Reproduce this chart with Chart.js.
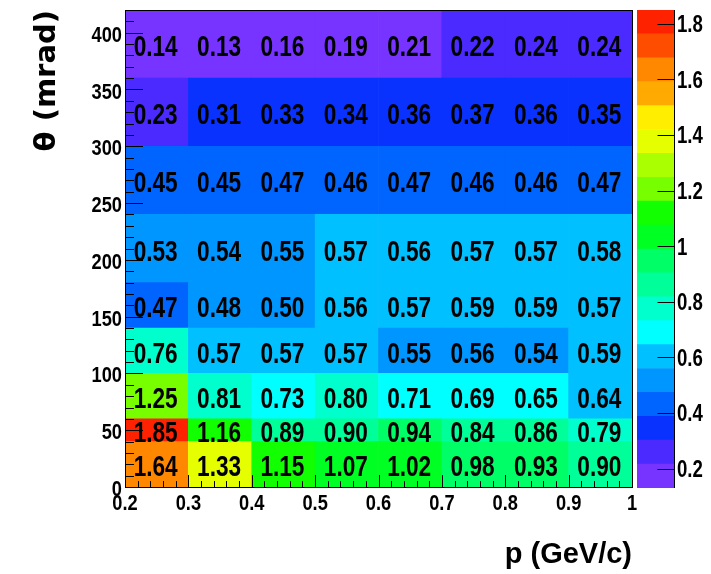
<!DOCTYPE html>
<html>
<head>
<meta charset="utf-8">
<script src="https://cdn.jsdelivr.net/npm/chart.js@4"></script>
<style>
  body { margin: 0; background: #fff; }
  #wrap { position: relative; width: 711px; height: 574px; }
  #heat { position: absolute; left: 0; top: 0; }
  #zbar { position: absolute; left: 632px; top: 0; }
</style>
</head>
<body>
<div id="wrap">
  <canvas id="heat" width="711" height="574"></canvas>
  <canvas id="zbar" width="79" height="574"></canvas>
</div>
<script>
// bin edges
var pEdges = [0.2, 0.3, 0.4, 0.5, 0.6, 0.7, 0.8, 0.9, 1.0];
var thetaEdges = [0, 40, 60, 100, 140, 180, 240, 300, 360, 420];

// cell values, one row per theta bin (bottom to top)
var row0_40    = [1.64, 1.334, 1.15, 1.07, 1.02, 0.98, 0.93, 0.90];
var row40_60   = [1.85, 1.16, 0.89, 0.90, 0.94, 0.84, 0.86, 0.79];
var row60_100  = [1.246, 0.81, 0.73, 0.80, 0.71, 0.69, 0.65, 0.64];
var row100_140 = [0.76, 0.57, 0.57, 0.57, 0.55, 0.556, 0.54, 0.59];
var row140_180 = [0.47, 0.48, 0.50, 0.56, 0.57, 0.59, 0.59, 0.57];
var row180_240 = [0.53, 0.54, 0.55, 0.57, 0.56, 0.57, 0.57, 0.58];
var row240_300 = [0.45, 0.45, 0.47, 0.46, 0.47, 0.46, 0.46, 0.47];
var row300_360 = [0.23, 0.31, 0.33, 0.34, 0.36, 0.37, 0.36, 0.35];
var row360_420 = [0.14, 0.13, 0.16, 0.19, 0.21, 0.22, 0.24, 0.24];
var rows = [row0_40, row40_60, row60_100, row100_140, row140_180,
            row180_240, row240_300, row300_360, row360_420];

// ticks
var xTicks = [0.2, 0.3, 0.4, 0.5, 0.6, 0.7, 0.8, 0.9, 1.0];
var xTickLabels = ['0.2', '0.3', '0.4', '0.5', '0.6', '0.7', '0.8', '0.9', '1'];
var yTicks = [0, 50, 100, 150, 200, 250, 300, 350, 400];
var yTickLabels = ['0', '50', '100', '150', '200', '250', '300', '350', '400'];
var zTicks = [0.2, 0.4, 0.6, 0.8, 1.0, 1.2, 1.4, 1.6, 1.8];
var zTickLabels = ['0.2', '0.4', '0.6', '0.8', '1', '1.2', '1.4', '1.6', '1.8'];

// colour scale: 20 contour levels between zMin and zMax
var zMin = 0.13, zMax = 1.85, nLevels = 20;
var levelColors = ['#7733ff', '#4a2aff', '#0a32ff', '#0064ff', '#0096ff',
                   '#00c0ff', '#00ffff', '#00ffcc', '#00ff99', '#00ff66',
                   '#00ff22', '#11ff00', '#77ff00', '#aaff00', '#e6ff00',
                   '#ffee00', '#ffaa00', '#ff8800', '#ff4d00', '#ff2200'];
function levelOf(z) {
  var b = Math.floor(0.01 + (z - zMin) * nLevels / (zMax - zMin));
  return Math.max(0, Math.min(nLevels - 1, b));
}

var FONT = '"Liberation Sans", Arial, sans-serif';

// condensed bold text, like the ROOT rendering
function squeezedText(ctx, str, x, y, size, sq, align, baseline) {
  ctx.save();
  ctx.translate(x, y);
  ctx.scale(sq, 1);
  ctx.font = 'bold ' + size + 'px ' + FONT;
  ctx.textAlign = align;
  ctx.textBaseline = baseline;
  ctx.fillStyle = '#000';
  ctx.fillText(str, 0, 0);
  ctx.restore();
}

var datasets = rows.map(function (vals, r) {
  return {
    data: vals.map(function (v, c) {
      return { x: (pEdges[c] + pEdges[c + 1]) / 2, y: [thetaEdges[r], thetaEdges[r + 1]] };
    }),
    values: vals,
    backgroundColor: vals.map(function (v) { return levelColors[levelOf(v)]; }),
    borderWidth: 0
  };
});

var heatDecor = {
  id: 'heatDecor',
  afterDatasetsDraw: function (chart) {
    var ctx = chart.ctx;
    chart.data.datasets.forEach(function (ds, i) {
      chart.getDatasetMeta(i).data.forEach(function (bar, j) {
        var p = bar.getProps(['x', 'y', 'base'], true);
        squeezedText(ctx, ds.values[j].toFixed(2), p.x - 1, (p.y + p.base) / 2 + 4, 29, 0.78, 'center', 'middle');
      });
    });
  },
  afterDraw: function (chart) {
    var ctx = chart.ctx, a = chart.chartArea, x = chart.scales.x, y = chart.scales.y;
    ctx.save();
    ctx.strokeStyle = '#000';
    ctx.lineWidth = 1;
    ctx.beginPath();
    var k, px, len;
    for (k = 0; k <= 40; k++) {
      px = Math.round(x.getPixelForValue(0.2 + k * 0.02)) + 0.5;
      len = k % 5 === 0 ? 12 : 6;
      ctx.moveTo(px, a.bottom);
      ctx.lineTo(px, a.bottom - len);
    }
    for (k = 0; k <= 42; k++) {
      px = Math.round(y.getPixelForValue(k * 10)) + 0.5;
      len = k % 5 === 0 ? 18 : 9;
      ctx.moveTo(a.left, px);
      ctx.lineTo(a.left + len, px);
    }
    ctx.stroke();
    ctx.strokeRect(Math.round(a.left) + 0.5, Math.round(a.top) + 0.5,
                   Math.round(a.right - a.left), Math.round(a.bottom - a.top));
    ctx.restore();
    xTicks.forEach(function (v, i) {
      squeezedText(ctx, xTickLabels[i], x.getPixelForValue(v), a.bottom + 6, 22, 0.83, 'center', 'top');
    });
    yTicks.forEach(function (v, i) {
      squeezedText(ctx, yTickLabels[i], a.left - 3, y.getPixelForValue(v) + 3, 22, 0.83, 'right', 'middle');
    });
  }
};

new Chart(document.getElementById('heat').getContext('2d'), {
  type: 'bar',
  data: { datasets: datasets },
  options: {
    responsive: false,
    animation: false,
    events: [],
    devicePixelRatio: 1,
    layout: { padding: { top: 10, right: 79, left: 0, bottom: 0 } },
    plugins: { legend: { display: false }, tooltip: { enabled: false } },
    datasets: { bar: { grouped: false, barPercentage: 1, categoryPercentage: 1 } },
    scales: {
      x: {
        type: 'linear', min: 0.2, max: 1.0, offset: false,
        grid: { display: false, drawTicks: false },
        border: { display: false },
        afterBuildTicks: function (s) { s.ticks = xTicks.map(function (v) { return { value: v }; }); },
        afterFit: function (s) { s.height = 87; },
        ticks: { display: false },
        title: {
          display: true, text: 'p (GeV/c)', align: 'end', color: '#000',
          font: { family: FONT, size: 29, weight: 'bold' },
          padding: { top: 0, bottom: 2 }
        }
      },
      y: {
        type: 'linear', min: 0, max: 420,
        grid: { display: false, drawTicks: false },
        border: { display: false },
        afterBuildTicks: function (s) { s.ticks = yTicks.map(function (v) { return { value: v }; }); },
        afterFit: function (s) { s.width = 125; },
        ticks: { display: false },
        title: {
          display: true, text: 'θ (mrad)', align: 'end', color: '#000',
          font: { family: '"DejaVu Sans", sans-serif', size: 29, weight: 'bold' },
          padding: { top: 30, bottom: 0 }
        }
      }
    }
  },
  plugins: [heatDecor]
});

// colour bar
var zBands = levelColors.map(function (col, b) {
  return {
    data: [{ x: 'z', y: [zMin + b * (zMax - zMin) / nLevels, zMin + (b + 1) * (zMax - zMin) / nLevels] }],
    backgroundColor: col,
    borderWidth: 0
  };
});

var zAxisDecor = {
  id: 'zAxisDecor',
  afterDraw: function (chart) {
    var ctx = chart.ctx, a = chart.chartArea, z = chart.scales.y;
    ctx.save();
    ctx.strokeStyle = '#000';
    ctx.lineWidth = 1;
    ctx.beginPath();
    var r = Math.round(a.right) + 0.5;
    ctx.moveTo(r, a.top);
    ctx.lineTo(r, a.bottom);
    zTicks.forEach(function (v) {
      var py = Math.round(z.getPixelForValue(v)) + 0.5;
      ctx.moveTo(r, py);
      ctx.lineTo(r - 17, py);
    });
    ctx.stroke();
    ctx.restore();
    zTicks.forEach(function (v, i) {
      squeezedText(ctx, zTickLabels[i], a.right + 3, z.getPixelForValue(v) + 2, 23, 0.81, 'left', 'middle');
    });
  }
};

new Chart(document.getElementById('zbar').getContext('2d'), {
  type: 'bar',
  data: { labels: ['z'], datasets: zBands },
  options: {
    responsive: false,
    animation: false,
    events: [],
    devicePixelRatio: 1,
    layout: { padding: { top: 10, right: 0, left: 5, bottom: 86 } },
    plugins: { legend: { display: false }, tooltip: { enabled: false } },
    datasets: { bar: { grouped: false, barPercentage: 1, categoryPercentage: 1 } },
    scales: {
      x: { type: 'category', display: false },
      y: {
        type: 'linear', position: 'right', min: zMin, max: zMax,
        grid: { display: false, drawTicks: false },
        border: { display: false },
        afterBuildTicks: function (s) { s.ticks = zTicks.map(function (v) { return { value: v }; }); },
        afterFit: function (s) { s.width = 37; },
        ticks: { display: false }
      }
    }
  },
  plugins: [zAxisDecor]
});
</script>
</body>
</html>
